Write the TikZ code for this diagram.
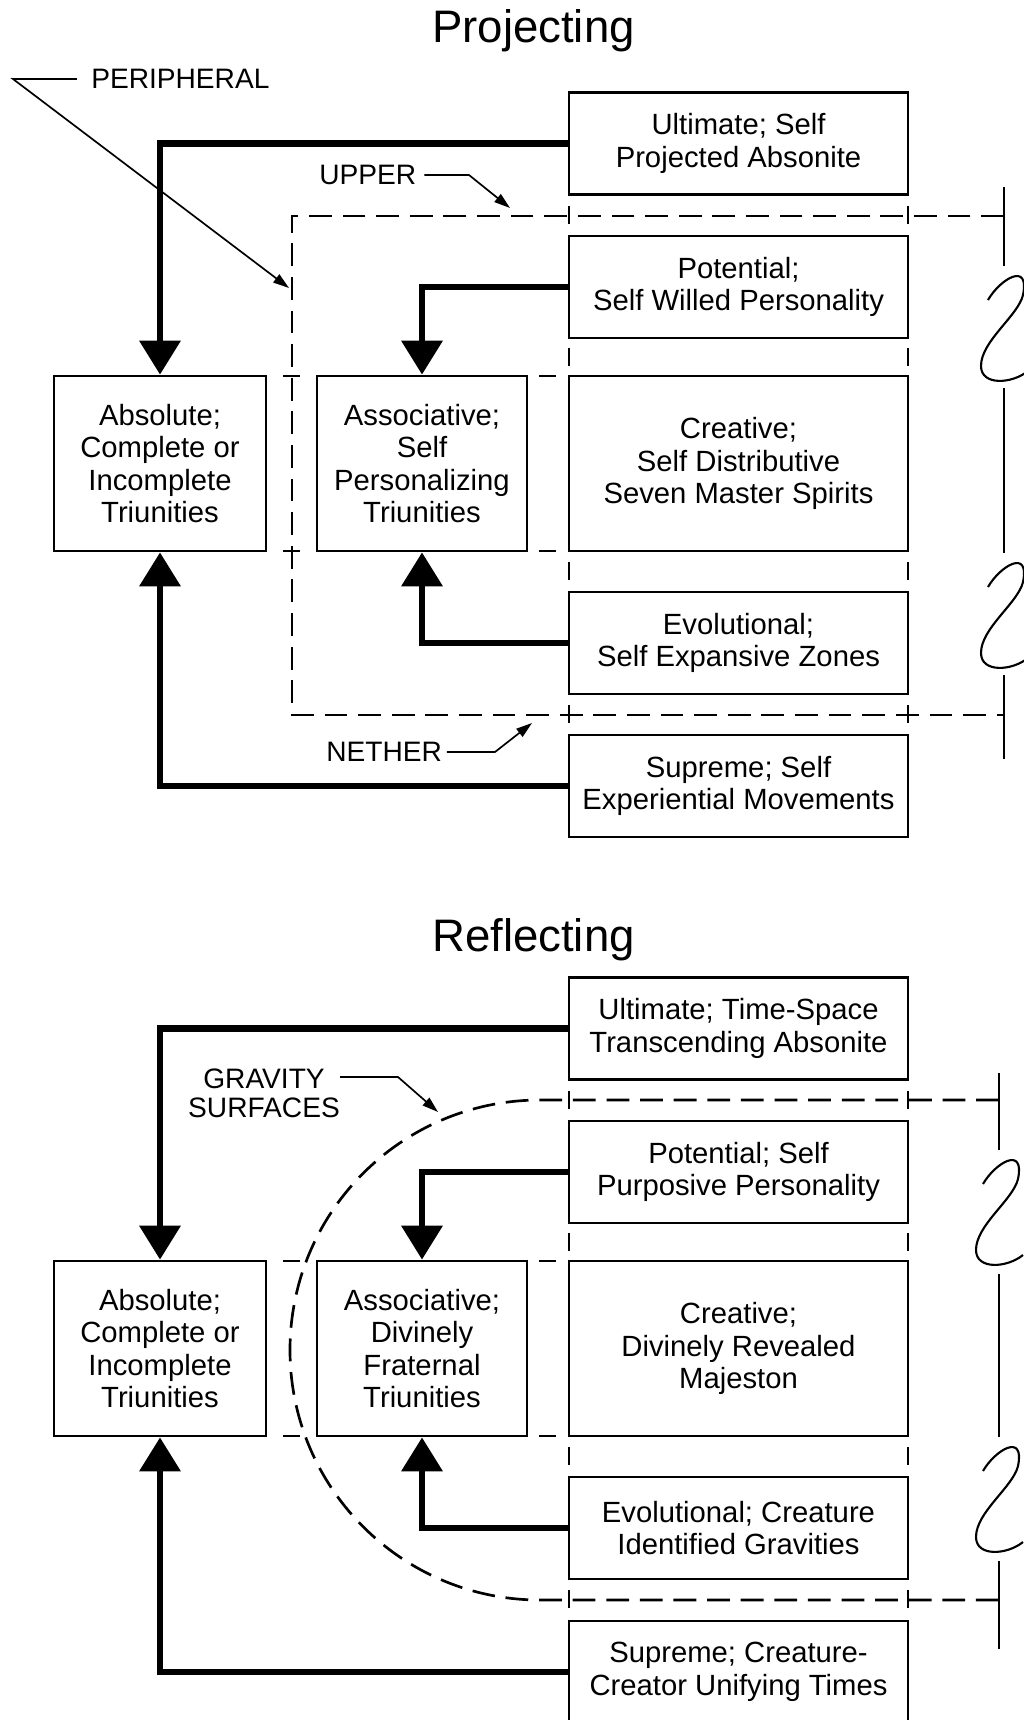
\documentclass[tikz,border=0pt]{standalone}
\usepackage{fontspec}
\setmainfont{Liberation Sans}
\usetikzlibrary{arrows.meta,calc}
\newcommand\cellfont{\fontsize{20.8}{23.2}\selectfont}
\newcommand\tagfont{\fontsize{20}{20.5}\selectfont}
\newcommand\headfont{\fontsize{32.4}{36}\selectfont}
\def\sbreak(#1,#2){\draw[rail] (#1-16,#2+29) .. controls (#1-4,#2+8) and (#1+26,#2-10) .. (#1+19,#2+24) .. controls (#1+14,#2+45) and (#1-23,#2+70) .. (#1-23,#2+95) .. controls (#1-23,#2+115) and (#1+8,#2+113) .. (#1+24,#2+100);}
\tikzset{
	rbox/.style={draw, line width=1.9pt, fill=white, minimum width=8.475cm, minimum height=2.55cm, align=center, inner sep=0pt, font=\cellfont},
	lbox/.style={rbox, minimum width=5.3cm, minimum height=4.375cm},
	feed/.style={line width=4.8pt, -{Triangle[length=0.85cm,width=1cm]}},
	guide/.style={line width=1.9pt, dash pattern=on 0.57cm off 0.27cm},
	tick/.style={line width=1.9pt},
	rail/.style={line width=1.5pt},
	note/.style={inner sep=0pt, align=center, font=\tagfont},
	pointer/.style={line width=1.2pt, -{Triangle[length=0.4cm,width=0.25cm]}},
	heading/.style={inner sep=0pt, font=\headfont}
}

\begin{document}
\begin{tikzpicture}[x=0.025cm, y=-0.025cm]
			%%%%% START %%%%%
			\useasboundingbox (0,0) rectangle (1024,1720);
			
			%%%%% PROJECTING %%%%%
			\node[heading, anchor=base] (projecting) at (533.5,43) {Projecting};
			
			\draw[guide] (1004,216) -- (292,216) -- (292,715) -- (1004,715);
			\draw[rail] (1004,187) -- (1004,266) (1004,388) -- (1004,553) (1004,675) -- (1004,759);
			\sbreak(1004,271)
			\sbreak(1004,558)
			
			\node[rbox] (U1) at (738.5,143.5) {Ultimate; Self\\Projected Absonite};
			\node[rbox] (P1) at (738.5,287) {Potential;\\Self Willed Personality};
			\node[rbox, minimum height=4.375cm] (C1) at (738.5,463.5) {Creative;\\Self Distributive\\Seven Master Spirits};
			\node[rbox] (E1) at (738.5,643) {Evolutional;\\Self Expansive Zones};
			\node[rbox] (S1) at (738.5,786) {Supreme; Self\\Experiential Movements};
			\node[lbox] (Abs1) at (160,463.5) {Absolute;\\Complete or\\Incomplete\\Triunities};
			\node[lbox, minimum width=5.25cm] (Assoc1) at (422,463.5) {Associative;\\Self\\Personalizing\\Triunities};
			
			\draw[feed] (U1.west) -| (Abs1.north);
			\draw[feed] (P1.west) -| (Assoc1.north);
			\draw[feed] (E1.west) -| (Assoc1.south);
			\draw[feed] (S1.west) -| (Abs1.south);
			
			\node[note, anchor=west] (peri) at (91,79) {PERIPHERAL};
			\coordinate (peribend) at (13,79);
			\coordinate (peritip) at (289,288);
			\draw[pointer] ([xshift=-0.35cm]peri.west) -- (peribend) -- (peritip);
			
			\node[note, anchor=west] (upper) at (319,175) {UPPER};
			\coordinate (upbend) at (469,175);
			\coordinate (uptip) at (510,208);
			\draw[pointer] ([xshift=0.2cm]upper.east) -- (upbend) -- (uptip);
			
			\node[note, anchor=west] (nether) at (326,752) {NETHER};
			\coordinate (netbend) at (495,752);
			\coordinate (nettip) at (532,723);
			\draw[pointer] ([xshift=0.12cm]nether.east) -- (netbend) -- (nettip);
			
			%%%%% REFLECTING %%%%%
			\node[heading, anchor=base] (reflecting) at (533.5,951) {Reflecting};
			
			\draw[guide] (999,1100) -- (540,1100) arc (270:90:250) -- (999,1600);
			\draw[rail] (999,1073) -- (999,1150) (999,1274) -- (999,1437) (999,1561) -- (999,1649);
			\sbreak(999,1155)
			\sbreak(999,1442)
			
			\node[rbox] (U2) at (738.5,1028.5) {Ultimate; Time-Space\\Transcending Absonite};
			\node[rbox] (P2) at (738.5,1172) {Potential; Self\\Purposive Personality};
			\node[rbox, minimum height=4.375cm] (C2) at (738.5,1348.5) {Creative;\\Divinely Revealed\\Majeston};
			\node[rbox] (E2) at (738.5,1528) {Evolutional; Creature\\Identified Gravities};
			\node[rbox] (S2) at (738.5,1672) {Supreme; Creature-\\Creator Unifying Times};
			\node[lbox] (Abs2) at (160,1348.5) {Absolute;\\Complete or\\Incomplete\\Triunities};
			\node[lbox, minimum width=5.25cm] (Assoc2) at (422,1348.5) {Associative;\\Divinely\\Fraternal\\Triunities};
			
			\draw[feed] (U2.west) -| (Abs2.north);
			\draw[feed] (P2.west) -| (Assoc2.north);
			\draw[feed] (E2.west) -| (Assoc2.south);
			\draw[feed] (S2.west) -| (Abs2.south);
			
			\node[note] (gravity) at (264,1093) {GRAVITY\\SURFACES};
			\coordinate (gravstart) at (340,1077);
			\coordinate (gravbend) at (398,1077);
			\coordinate (gravtip) at (438,1112);
			\draw[pointer] (gravstart) -- (gravbend) -- (gravtip);
			
			%%%%% TICKS %%%%%
			\foreach \y in {376,551,1261,1436}
				\draw[tick] (283,\y) -- (300,\y) (539,\y) -- (556,\y);
			\foreach \x in {569,908}
				\foreach \y in {215,357,571,714,1100,1242,1456,1599}
					\draw[tick] (\x,\y-9) -- (\x,\y+9);
			
			%%%%% END %%%%%
\end{tikzpicture}
\end{document}
